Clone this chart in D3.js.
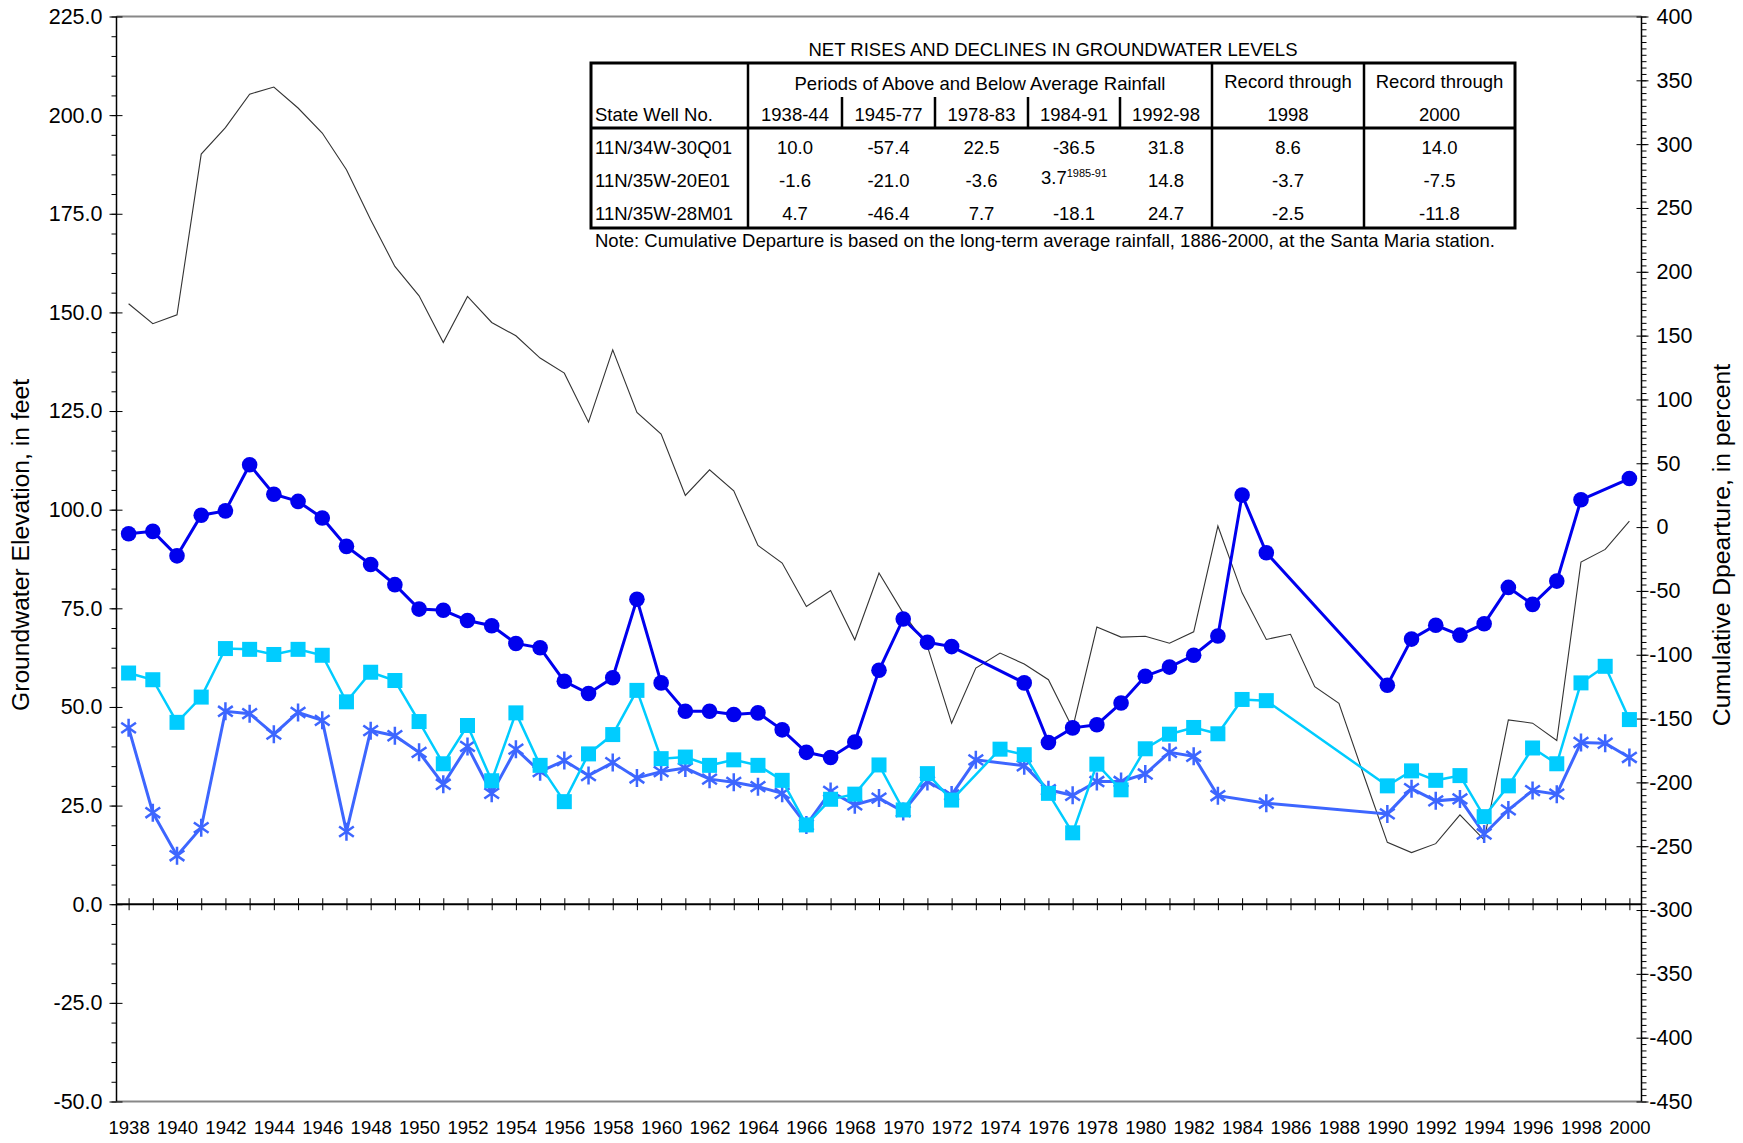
<!DOCTYPE html>
<html>
<head>
<meta charset="utf-8">
<script src="https://cdn.jsdelivr.net/npm/d3@7/dist/d3.min.js"></script>
<style>
body { margin: 0; background: #fff; }
svg { display: block; font-family: "Liberation Sans", Arial, sans-serif; }
.tbl text { font-size: 18.5px; fill: #000; }
</style>
</head>
<body>
<div class="chart-wrapper"></div>
<script>
// years on the x axis
const years = [1938, 1939, 1940, 1941, 1942, 1943, 1944, 1945, 1946, 1947,
  1948, 1949, 1950, 1951, 1952, 1953, 1954, 1955, 1956, 1957,
  1958, 1959, 1960, 1961, 1962, 1963, 1964, 1965, 1966, 1967,
  1968, 1969, 1970, 1971, 1972, 1973, 1974, 1975, 1976, 1977,
  1978, 1979, 1980, 1981, 1982, 1983, 1984, 1985, 1986, 1987,
  1988, 1989, 1990, 1991, 1992, 1993, 1994, 1995, 1996, 1997,
  1998, 1999, 2000]

// groundwater elevation, feet (null = no measurement)
const well30Q01 = [93.9, 94.5, 88.3, 98.6, 99.7, 111.4, 103.9, 102.1, 97.9, 90.7,
  86.1, 81.0, 74.8, 74.5, 71.9, 70.6, 66.1, 65.0, 56.5, 53.4,
  57.4, 77.3, 56.1, 48.9, 48.9, 48.1, 48.5, 44.2, 38.5, 37.2,
  41.1, 59.3, 72.3, 66.4, 65.3, null, null, 56.1, 41.0, 44.7,
  45.5, 51.0, 57.8, 60.1, 63.1, 68.0, 103.7, 89.1, null, null,
  null, null, 55.5, 67.2, 70.7, 68.2, 71.1, 80.3, 76.0, 81.9,
  102.5, null, 107.9]

const well28M01 = [58.6, 56.9, 46.1, 52.5, 64.8, 64.6, 63.3, 64.6, 63.1, 51.3,
  58.8, 56.7, 46.3, 35.6, 45.3, 31.3, 48.5, 35.2, 26.0, 38.1,
  43.0, 54.2, 36.9, 37.3, 35.2, 36.6, 35.2, 31.4, 20.1, 26.6,
  27.9, 35.3, 23.9, 33.1, 26.4, null, 39.3, 37.9, 28.1, 18.1,
  35.5, 29.0, 39.4, 43.1, 44.8, 43.2, 51.9, 51.6, null, null,
  null, null, 30.0, 33.8, 31.4, 32.6, 22.2, 30.0, 39.6, 35.6,
  56.1, 60.3, 46.8]

const well20E01 = [44.7, 23.2, 12.3, 19.4, 48.9, 48.3, 43.1, 48.6, 46.6, 18.4,
  44.0, 42.7, 38.5, 30.4, 40.0, 28.1, 39.3, 33.6, 36.4, 32.6,
  35.9, 32.0, 33.6, 34.5, 31.7, 30.9, 29.8, 28.1, 20.1, 28.6,
  25.2, 26.9, 23.5, 31.1, 27.7, 36.6, null, 35.1, 29.0, 27.6,
  31.1, 31.1, 33.0, 38.5, 37.5, 27.5, null, 25.6, null, null,
  null, null, 22.9, 29.3, 26.2, 26.7, 17.8, 23.9, 28.8, 27.9,
  41.0, 40.8, 37.2]

// cumulative departure from average rainfall, percent
const cumDeparture = [175, 159.3, 166.3, 292.2, 313, 339.2, 344.7, 328.3, 308.7, 280,
  240.8, 204.2, 181.2, 144.6, 180.7, 160.3, 149.9, 132.4, 120.6, 82.2,
  138.9, 89.8, 72.8, 24.8, 44.9, 28.4, -14.4, -28.2, -62.2, -49.7,
  -88.3, -36.0, -67.4, -93.5, -153.6, -110.5, -98.7, -107.3, -119.6, -157.5,
  -78.3, -86.2, -85.5, -91.0, -82.0, 0.8, -51.5, -88.0, -84.0, -125.0,
  -138.0, -193.0, -247.0, -255.0, -248.0, -225.4, -245.0, -151.0, -153.6, -167.2,
  -27.4, -17.5, 4.7]

const leftTicks = [-50, -25, 0, 25, 50, 75, 100, 125, 150, 175, 200, 225]
const rightTicks = [-450, -400, -350, -300, -250, -200, -150, -100, -50, 0, 50, 100, 150, 200, 250, 300, 350, 400]
const yearLabels = [1938, 1940, 1942, 1944, 1946, 1948, 1950, 1952, 1954, 1956, 1958, 1960, 1962, 1964, 1966, 1968,
  1970, 1972, 1974, 1976, 1978, 1980, 1982, 1984, 1986, 1988, 1990, 1992, 1994, 1996, 1998, 2000]

// table
const tableTitle = 'NET RISES AND DECLINES IN GROUNDWATER LEVELS'
const periodHeader = 'Periods of Above and Below Average Rainfall'
const periodCols = ['1938-44', '1945-77', '1978-83', '1984-91', '1992-98']
const recordCols = ['1998', '2000']
const wellNames = ['11N/34W-30Q01', '11N/35W-20E01', '11N/35W-28M01']
const netChanges = [
  ['10.0', '-57.4', '22.5', '-36.5', '31.8', '8.6', '14.0'],
  ['-1.6', '-21.0', '-3.6', '3.7', '14.8', '-3.7', '-7.5'],
  ['4.7', '-46.4', '7.7', '-18.1', '24.7', '-2.5', '-11.8']
]
const noteText = 'Note: Cumulative Departure is based on the long-term average rainfall, 1886-2000, at the Santa Maria station.'

const width = 1743
const height = 1143

let svg = d3.select('.chart-wrapper').append('svg')
.attr('width', width)
.attr('height', height)

let x = d3.scaleLinear().domain([1937.5, 2000.5]).range([116.5, 1641.5])
let yL = d3.scaleLinear().domain([-50, 225]).range([1101.5, 16.5])
let yR = d3.scaleLinear().domain([-450, 400]).range([1101.5, 16.5])

// frame lines top and bottom
svg.append('g').selectAll('line')
.data([225, -50])
.enter()
.append('line')
.attr('x1', x(1937.5)).attr('x2', x(2000.5))
.attr('y1', d => yL(d)).attr('y2', d => yL(d))
.attr('stroke', '#888').attr('stroke-width', 2)

// left axis
let leftMinor = svg.append('g')
.attr('transform', `translate(${x(1937.5)},0)`)
.call(d3.axisLeft(yL).tickValues(d3.range(-50, 226, 5)).tickSize(5).tickFormat(''))
leftMinor.select('.domain').remove()

let leftAxis = svg.append('g')
.attr('transform', `translate(${x(1937.5)},0)`)
.call(d3.axisLeft(yL).tickValues(leftTicks).tickSize(7).tickPadding(7).tickFormat(d => d.toFixed(1)))
leftAxis.selectAll('.tick line').attr('x2', 6).attr('x1', -7)
leftAxis.select('.domain').attr('d', `M0,${yL(225)}V${yL(-50)}`).attr('stroke-width', 1.5)
leftAxis.selectAll('text').attr('font-size', 21.5).attr('font-family', '"Liberation Sans", Arial, sans-serif')

// right axis
let rightMinor = svg.append('g')
.attr('transform', `translate(${x(2000.5)},0)`)
.call(d3.axisRight(yR).tickValues(d3.range(-450, 401, 5)).tickSize(5).tickFormat(''))
rightMinor.select('.domain').remove()

let rightAxis = svg.append('g')
.attr('transform', `translate(${x(2000.5)},0)`)
.call(d3.axisRight(yR).tickValues(rightTicks).tickSize(7).tickPadding(8).tickFormat(d => String(d)))
rightAxis.selectAll('.tick line').attr('x1', -5)
rightAxis.select('.domain').attr('d', `M0,${yR(400)}V${yR(-450)}`).attr('stroke-width', 1.5)
rightAxis.selectAll('text')
.attr('font-size', 21.5).attr('font-family', '"Liberation Sans", Arial, sans-serif')
.attr('dx', d => d < 0 ? '-0.333em' : 0)

// zero line with yearly ticks
let zeroAxis = svg.append('g')
.attr('transform', `translate(0,${yL(0)})`)
.call(d3.axisBottom(x).tickValues(years).tickSize(6).tickFormat(''))
zeroAxis.selectAll('.tick line').attr('y1', -6)
zeroAxis.select('.domain').attr('d', `M${x(1937.5)},0H${x(2000.5)}`).attr('stroke-width', 2)

// year labels along the bottom
let yearAxis = svg.append('g')
.attr('transform', `translate(0,${yL(-50)})`)
.call(d3.axisBottom(x).tickValues(yearLabels).tickSize(0).tickPadding(19).tickFormat(d => String(d)))
yearAxis.select('.domain').remove()
yearAxis.selectAll('text').attr('font-size', 18.5).attr('font-family', '"Liberation Sans", Arial, sans-serif')

// axis titles
svg.append('text')
.attr('transform', `translate(29,${545}) rotate(-90)`)
.attr('text-anchor', 'middle')
.attr('font-size', 24.7)
.text('Groundwater Elevation, in feet')

svg.append('text')
.attr('transform', `translate(1730,${545}) rotate(-90)`)
.attr('text-anchor', 'middle')
.attr('font-size', 24.7)
.text('Cumulative Dpearture, in percent')

// series
function points(values) {
  return years.map((yr, i) => ({ year: yr, value: values[i] })).filter(d => d.value !== null)
}

let lineL = d3.line().x(d => x(d.year)).y(d => yL(d.value))
let lineR = d3.line().x(d => x(d.year)).y(d => yR(d.value))

svg.append('path')
.datum(points(cumDeparture))
.attr('d', lineR)
.attr('fill', 'none')
.attr('stroke', '#333')
.attr('stroke-width', 1.1)

const starColor = '#3d66ff'
const squareColor = '#00ccff'
const circleColor = '#0000ee'

function starPath(r) {
  let a = Math.PI * 35 / 180
  let dx = r * Math.cos(a), dy = r * Math.sin(a)
  return `M0,${-r}V${r}M${-dx},${-dy}L${dx},${dy}M${-dx},${dy}L${dx},${-dy}`
}

svg.append('path')
.datum(points(well20E01))
.attr('d', lineL)
.attr('fill', 'none')
.attr('stroke', starColor)
.attr('stroke-width', 3)

svg.append('g').selectAll('path')
.data(points(well20E01))
.enter()
.append('path')
.attr('transform', d => `translate(${x(d.year)},${yL(d.value)})`)
.attr('d', starPath(9))
.attr('fill', 'none')
.attr('stroke', starColor)
.attr('stroke-width', 2.5)

svg.append('path')
.datum(points(well28M01))
.attr('d', lineL)
.attr('fill', 'none')
.attr('stroke', squareColor)
.attr('stroke-width', 2.5)

svg.append('g').selectAll('rect')
.data(points(well28M01))
.enter()
.append('rect')
.attr('x', d => x(d.year) - 7.5)
.attr('y', d => yL(d.value) - 7.5)
.attr('width', 15)
.attr('height', 15)
.attr('fill', squareColor)

svg.append('path')
.datum(points(well30Q01))
.attr('d', lineL)
.attr('fill', 'none')
.attr('stroke', circleColor)
.attr('stroke-width', 3)

svg.append('g').selectAll('circle')
.data(points(well30Q01))
.enter()
.append('circle')
.attr('cx', d => x(d.year))
.attr('cy', d => yL(d.value))
.attr('r', 7.8)
.attr('fill', circleColor)

// table of net rises and declines
const colEdges = [591, 748, 842, 935, 1028, 1120, 1212, 1364, 1515]
const tTop = 63, tHead = 128, tBottom = 228, subTop = 97
const rowBase = [153.5, 186.5, 220]
const colMid = i => (colEdges[i] + colEdges[i + 1]) / 2

let tbl = svg.append('g').attr('class', 'tbl')

tbl.append('text')
.attr('x', (colEdges[0] + colEdges[8]) / 2)
.attr('y', 56)
.attr('text-anchor', 'middle')
.attr('font-size', 19)
.text(tableTitle)

tbl.append('rect')
.attr('x', colEdges[0]).attr('y', tTop)
.attr('width', colEdges[8] - colEdges[0]).attr('height', tBottom - tTop)
.attr('fill', 'none').attr('stroke', '#000').attr('stroke-width', 3)

tbl.append('line')
.attr('x1', colEdges[0]).attr('x2', colEdges[8])
.attr('y1', tHead).attr('y2', tHead)
.attr('stroke', '#000').attr('stroke-width', 3)

tbl.selectAll('.vfull')
.data([1, 6, 7])
.enter()
.append('line')
.attr('x1', i => colEdges[i]).attr('x2', i => colEdges[i])
.attr('y1', tTop).attr('y2', tBottom)
.attr('stroke', '#000').attr('stroke-width', 2.5)

tbl.selectAll('.vpart')
.data([2, 3, 4, 5])
.enter()
.append('line')
.attr('x1', i => colEdges[i]).attr('x2', i => colEdges[i])
.attr('y1', subTop).attr('y2', tHead)
.attr('stroke', '#000').attr('stroke-width', 2.5)

tbl.append('text')
.attr('x', (colEdges[1] + colEdges[6]) / 2).attr('y', 89.5)
.attr('text-anchor', 'middle')
.text(periodHeader)

tbl.selectAll('.rec')
.data([6, 7])
.enter()
.append('text')
.attr('x', i => colMid(i)).attr('y', 87.5)
.attr('text-anchor', 'middle')
.text('Record through')

tbl.append('text')
.attr('x', colEdges[0] + 4).attr('y', 121)
.text('State Well No.')

tbl.selectAll('.sub')
.data(periodCols.concat(recordCols))
.enter()
.append('text')
.attr('x', (d, i) => colMid(i + 1)).attr('y', 121)
.attr('text-anchor', 'middle')
.text(d => d)

wellNames.forEach((name, r) => {
  tbl.append('text')
  .attr('x', colEdges[0] + 4).attr('y', rowBase[r])
  .text(name)

  netChanges[r].forEach((val, c) => {
    let t = tbl.append('text')
    .attr('x', colMid(c + 1))
    .attr('y', rowBase[r])
    .attr('text-anchor', 'middle')
    if (r === 1 && c === 3) {
      t.attr('y', rowBase[r] - 3)
      t.append('tspan').text(val)
      t.append('tspan').attr('dy', -7).attr('font-size', 11).text('1985-91')
    } else {
      t.text(val)
    }
  })
})

tbl.append('text')
.attr('x', colEdges[0] + 4).attr('y', 247)
.text(noteText)
</script>
</body>
</html>
